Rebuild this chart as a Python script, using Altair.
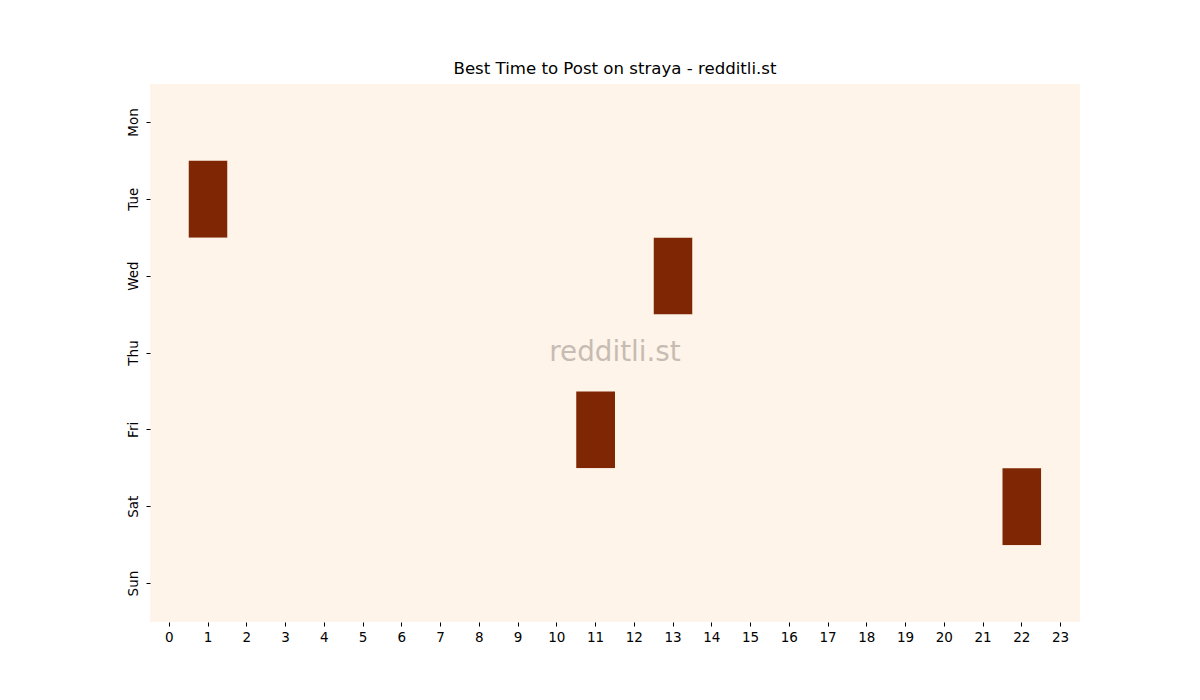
import altair as alt
import pandas as pd

days = ["Mon", "Tue", "Wed", "Thu", "Fri", "Sat", "Sun"]
hours = list(range(24))
hot_days = ["Tue", "Wed", "Fri", "Sat"]
hot_hours = [1, 13, 11, 22]
hot_values = [1, 1, 1, 1]

rows = []
for d in days:
    for h in hours:
        rows.append({"day": d, "hour": h, "value": 0})
for d, h, v in zip(hot_days, hot_hours, hot_values):
    for r in rows:
        if r["day"] == d and r["hour"] == h:
            r["value"] = v
df = pd.DataFrame(rows)

W, H = 930, 538
FONT = "DejaVu Sans"
LOW, HIGH = "#fef4e9", "#7f2704"

heat = alt.Chart(df).mark_rect().encode(
    x=alt.X("hour:O", sort=hours, title=None,
            scale=alt.Scale(paddingInner=0, paddingOuter=0),
            axis=alt.Axis(labelAngle=0, domain=False, tickSize=4, tickColor="black",
                          labelColor="black", labelFont=FONT, labelFontSize=13.5,
                          labelPadding=4, grid=False)),
    y=alt.Y("day:O", sort=days, title=None,
            scale=alt.Scale(paddingInner=0, paddingOuter=0),
            axis=alt.Axis(labelAngle=-90, domain=False, tickSize=4, tickColor="black",
                          labelColor="black", labelFont=FONT, labelFontSize=13.5,
                          labelPadding=6, labelAlign="center", labelBaseline="bottom",
                          grid=False)),
    color=alt.Color("value:Q", scale=alt.Scale(domain=[0, 1], range=[LOW, HIGH]),
                    legend=None),
)

mark = alt.Chart(pd.DataFrame({"t": ["redditli.st"]})).mark_text(
    font=FONT, fontSize=27.8, color="#a39890", opacity=0.6, align="center", baseline="middle"
).encode(x=alt.value(W / 2), y=alt.value(H / 2), text="t:N")

chart = alt.layer(heat, mark).properties(
    width=W, height=H,
    title=alt.TitleParams("Best Time to Post on straya - redditli.st", font=FONT, fontSize=16.6,
                          fontWeight="normal", color="black", offset=6),
    autosize=alt.AutoSizeParams(type="none"),
    padding={"left": 142, "top": 76, "right": 112, "bottom": 70},
).configure_view(stroke=None, fill=LOW)

chart.save("out.html", embed_options={"renderer": "svg", "actions": False})
